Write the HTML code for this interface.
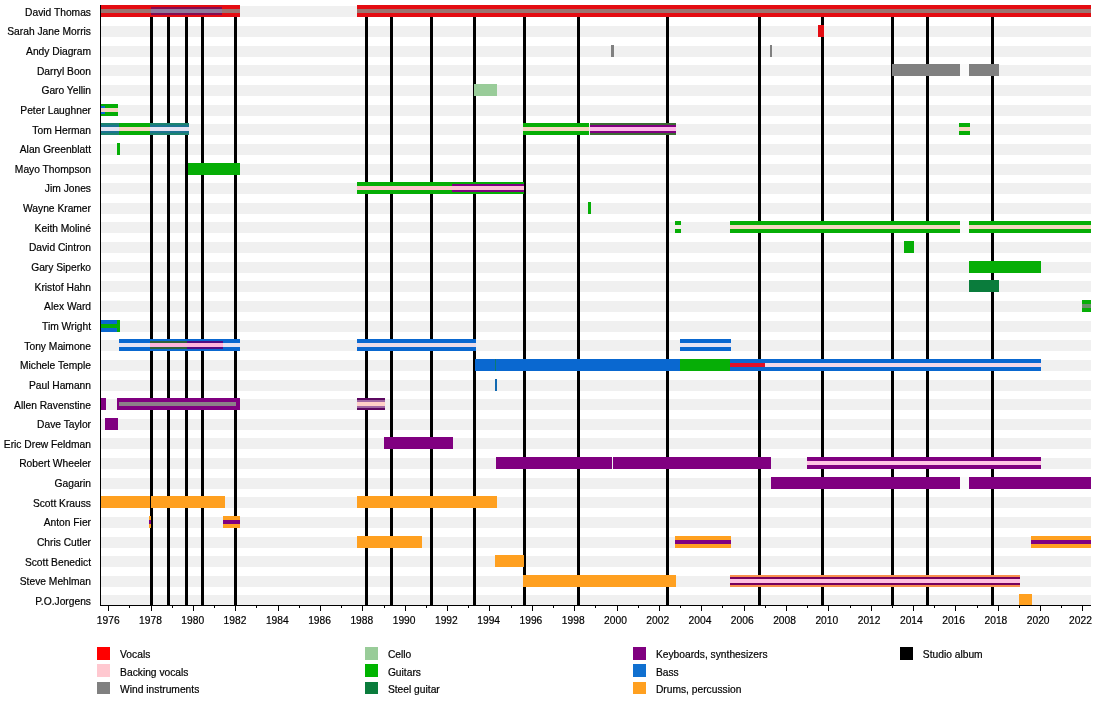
<!DOCTYPE html>
<html><head><meta charset="utf-8"><title>Timeline</title>
<style>
html,body{margin:0;padding:0;background:#fff;}
#c{position:relative;width:1100px;height:725px;overflow:hidden;background:#fff;font-family:"Liberation Sans",sans-serif;font-size:10.25px;color:#000;-webkit-text-stroke:0.2px #000;line-height:12px;}
#c div{position:absolute;}
#c span{position:absolute;white-space:nowrap;}
#t{position:absolute;left:0;top:0;width:1100px;height:725px;opacity:0.999;will-change:opacity;}
.n{right:1009px;text-align:right;}
.y{top:614.5px;width:40px;text-align:center;}
</style></head><body><div id="c">
<div style="left:100.00px;top:5.50px;width:991.00px;height:11.30px;background:#f0f0f0;"></div>
<div style="left:100.00px;top:25.50px;width:991.00px;height:11.30px;background:#f0f0f0;"></div>
<div style="left:100.00px;top:45.50px;width:991.00px;height:11.30px;background:#f0f0f0;"></div>
<div style="left:100.00px;top:64.50px;width:991.00px;height:11.30px;background:#f0f0f0;"></div>
<div style="left:100.00px;top:84.50px;width:991.00px;height:11.30px;background:#f0f0f0;"></div>
<div style="left:100.00px;top:104.50px;width:991.00px;height:11.30px;background:#f0f0f0;"></div>
<div style="left:100.00px;top:123.50px;width:991.00px;height:11.30px;background:#f0f0f0;"></div>
<div style="left:100.00px;top:143.50px;width:991.00px;height:11.30px;background:#f0f0f0;"></div>
<div style="left:100.00px;top:163.50px;width:991.00px;height:11.30px;background:#f0f0f0;"></div>
<div style="left:100.00px;top:182.50px;width:991.00px;height:11.30px;background:#f0f0f0;"></div>
<div style="left:100.00px;top:202.50px;width:991.00px;height:11.30px;background:#f0f0f0;"></div>
<div style="left:100.00px;top:221.50px;width:991.00px;height:11.30px;background:#f0f0f0;"></div>
<div style="left:100.00px;top:241.50px;width:991.00px;height:11.30px;background:#f0f0f0;"></div>
<div style="left:100.00px;top:261.50px;width:991.00px;height:11.30px;background:#f0f0f0;"></div>
<div style="left:100.00px;top:280.50px;width:991.00px;height:11.30px;background:#f0f0f0;"></div>
<div style="left:100.00px;top:300.50px;width:991.00px;height:11.30px;background:#f0f0f0;"></div>
<div style="left:100.00px;top:320.50px;width:991.00px;height:11.30px;background:#f0f0f0;"></div>
<div style="left:100.00px;top:339.50px;width:991.00px;height:11.30px;background:#f0f0f0;"></div>
<div style="left:100.00px;top:359.50px;width:991.00px;height:11.30px;background:#f0f0f0;"></div>
<div style="left:100.00px;top:379.50px;width:991.00px;height:11.30px;background:#f0f0f0;"></div>
<div style="left:100.00px;top:398.50px;width:991.00px;height:11.30px;background:#f0f0f0;"></div>
<div style="left:100.00px;top:418.50px;width:991.00px;height:11.30px;background:#f0f0f0;"></div>
<div style="left:100.00px;top:437.50px;width:991.00px;height:11.30px;background:#f0f0f0;"></div>
<div style="left:100.00px;top:457.50px;width:991.00px;height:11.30px;background:#f0f0f0;"></div>
<div style="left:100.00px;top:477.50px;width:991.00px;height:11.30px;background:#f0f0f0;"></div>
<div style="left:100.00px;top:496.50px;width:991.00px;height:11.30px;background:#f0f0f0;"></div>
<div style="left:100.00px;top:516.50px;width:991.00px;height:11.30px;background:#f0f0f0;"></div>
<div style="left:100.00px;top:536.50px;width:991.00px;height:11.30px;background:#f0f0f0;"></div>
<div style="left:100.00px;top:555.50px;width:991.00px;height:11.30px;background:#f0f0f0;"></div>
<div style="left:100.00px;top:575.50px;width:991.00px;height:11.30px;background:#f0f0f0;"></div>
<div style="left:100.00px;top:594.50px;width:991.00px;height:11.30px;background:#f0f0f0;"></div>
<div style="left:960.00px;top:64.00px;width:9.00px;height:12.00px;background:#fafafa;"></div>
<div style="left:960.00px;top:221.00px;width:9.00px;height:12.00px;background:#fafafa;"></div>
<div style="left:960.00px;top:477.00px;width:9.00px;height:12.00px;background:#fafafa;"></div>
<div style="left:150.00px;top:5.00px;width:3.00px;height:600.00px;background:#000;"></div>
<div style="left:167.00px;top:5.00px;width:3.00px;height:600.00px;background:#000;"></div>
<div style="left:184.80px;top:5.00px;width:3.00px;height:600.00px;background:#000;"></div>
<div style="left:200.80px;top:5.00px;width:3.00px;height:600.00px;background:#000;"></div>
<div style="left:234.00px;top:5.00px;width:3.00px;height:600.00px;background:#000;"></div>
<div style="left:365.00px;top:5.00px;width:3.00px;height:600.00px;background:#000;"></div>
<div style="left:390.00px;top:5.00px;width:3.00px;height:600.00px;background:#000;"></div>
<div style="left:430.00px;top:5.00px;width:3.00px;height:600.00px;background:#000;"></div>
<div style="left:473.00px;top:5.00px;width:3.00px;height:600.00px;background:#000;"></div>
<div style="left:523.00px;top:5.00px;width:3.00px;height:600.00px;background:#000;"></div>
<div style="left:577.00px;top:5.00px;width:3.00px;height:600.00px;background:#000;"></div>
<div style="left:666.00px;top:5.00px;width:3.00px;height:600.00px;background:#000;"></div>
<div style="left:758.00px;top:5.00px;width:3.00px;height:600.00px;background:#000;"></div>
<div style="left:821.00px;top:5.00px;width:3.00px;height:600.00px;background:#000;"></div>
<div style="left:890.80px;top:5.00px;width:3.00px;height:600.00px;background:#000;"></div>
<div style="left:925.70px;top:5.00px;width:3.00px;height:600.00px;background:#000;"></div>
<div style="left:990.90px;top:5.00px;width:3.00px;height:600.00px;background:#000;"></div>
<div style="left:100.70px;top:5.00px;width:139.30px;height:11.80px;background:#e40c12;"></div>
<div style="left:100.70px;top:9.00px;width:139.30px;height:4.00px;background:#9c7470;"></div>
<div style="left:151.20px;top:7.00px;width:70.80px;height:8.00px;background:#860c50;"></div>
<div style="left:151.20px;top:9.00px;width:70.80px;height:4.00px;background:#90789a;"></div>
<div style="left:357.20px;top:5.00px;width:733.80px;height:11.80px;background:#e40c12;"></div>
<div style="left:357.20px;top:9.00px;width:733.80px;height:4.00px;background:#9c7470;"></div>
<div style="left:818.00px;top:25.00px;width:5.50px;height:11.80px;background:#e40c12;"></div>
<div style="left:610.70px;top:45.00px;width:3.30px;height:11.80px;background:#808080;"></div>
<div style="left:769.80px;top:45.00px;width:2.20px;height:11.80px;background:#808080;"></div>
<div style="left:892.00px;top:64.00px;width:68.00px;height:11.80px;background:#808080;"></div>
<div style="left:969.00px;top:64.00px;width:30.00px;height:11.80px;background:#808080;"></div>
<div style="left:474.20px;top:84.00px;width:22.60px;height:11.80px;background:#99cc99;"></div>
<div style="left:100.70px;top:104.00px;width:17.30px;height:11.80px;background:#06ae06;"></div>
<div style="left:100.70px;top:108.00px;width:17.30px;height:4.00px;background:#f6d6c0;"></div>
<div style="left:100.70px;top:106.00px;width:4.80px;height:8.00px;background:#0a68d0;"></div>
<div style="left:100.70px;top:108.00px;width:4.80px;height:4.00px;background:#f6d6c0;"></div>
<div style="left:100.70px;top:123.00px;width:88.10px;height:11.80px;background:#06ae06;"></div>
<div style="left:100.70px;top:127.00px;width:88.10px;height:4.00px;background:#f6d6c0;"></div>
<div style="left:100.70px;top:123.00px;width:18.80px;height:11.80px;background:#1c8470;"></div>
<div style="left:100.70px;top:125.00px;width:18.80px;height:8.00px;background:#1c7490;"></div>
<div style="left:100.70px;top:127.00px;width:18.80px;height:4.00px;background:#e6e4f4;"></div>
<div style="left:150.20px;top:123.00px;width:38.60px;height:11.80px;background:#1c8470;"></div>
<div style="left:150.20px;top:125.00px;width:38.60px;height:8.00px;background:#1c7490;"></div>
<div style="left:150.20px;top:127.00px;width:38.60px;height:4.00px;background:#e6e4f4;"></div>
<div style="left:116.80px;top:143.00px;width:3.20px;height:11.80px;background:#06ae06;"></div>
<div style="left:187.80px;top:163.00px;width:52.20px;height:11.80px;background:#06ae06;"></div>
<div style="left:357.20px;top:182.00px;width:166.80px;height:11.80px;background:#06ae06;"></div>
<div style="left:357.20px;top:186.00px;width:166.80px;height:4.00px;background:#ffc4cc;"></div>
<div style="left:452.20px;top:184.00px;width:71.80px;height:8.00px;background:#800080;"></div>
<div style="left:452.20px;top:186.00px;width:71.80px;height:4.00px;background:#ffc0d8;"></div>
<div style="left:587.80px;top:202.00px;width:3.10px;height:11.80px;background:#06ae06;"></div>
<div style="left:523.10px;top:123.00px;width:65.90px;height:11.80px;background:#06ae06;"></div>
<div style="left:523.10px;top:127.00px;width:65.90px;height:4.00px;background:#f6d6c0;"></div>
<div style="left:589.60px;top:123.00px;width:86.40px;height:11.80px;background:#3c6c34;"></div>
<div style="left:589.60px;top:125.00px;width:86.40px;height:8.00px;background:#800080;"></div>
<div style="left:589.60px;top:127.00px;width:86.40px;height:4.00px;background:#ffb8e8;"></div>
<div style="left:959.00px;top:123.00px;width:11.20px;height:11.80px;background:#06ae06;"></div>
<div style="left:959.00px;top:127.00px;width:11.20px;height:4.00px;background:#f6d6c0;"></div>
<div style="left:675.00px;top:221.00px;width:6.00px;height:11.80px;background:#06ae06;"></div>
<div style="left:675.00px;top:225.00px;width:6.00px;height:4.00px;background:#f4f0e8;"></div>
<div style="left:730.00px;top:221.00px;width:230.20px;height:11.80px;background:#06ae06;"></div>
<div style="left:730.00px;top:225.00px;width:230.20px;height:4.00px;background:#f6d6c0;"></div>
<div style="left:969.30px;top:221.00px;width:121.70px;height:11.80px;background:#06ae06;"></div>
<div style="left:969.30px;top:225.00px;width:121.70px;height:4.00px;background:#f6d6c0;"></div>
<div style="left:904.00px;top:241.00px;width:10.00px;height:11.80px;background:#06ae06;"></div>
<div style="left:969.30px;top:261.00px;width:71.90px;height:11.80px;background:#06ae06;"></div>
<div style="left:969.30px;top:280.00px;width:29.70px;height:11.80px;background:#0a7c3c;"></div>
<div style="left:1082.20px;top:300.00px;width:8.80px;height:11.80px;background:#06ae06;"></div>
<div style="left:1082.20px;top:304.00px;width:8.80px;height:4.00px;background:#6c906c;"></div>
<div style="left:100.70px;top:320.00px;width:19.30px;height:11.80px;background:#0a68d0;"></div>
<div style="left:100.70px;top:324.00px;width:19.30px;height:4.00px;background:#06ae06;"></div>
<div style="left:116.80px;top:320.00px;width:3.20px;height:11.80px;background:#06ae06;"></div>
<div style="left:119.00px;top:339.00px;width:121.00px;height:11.80px;background:#0a68d0;"></div>
<div style="left:119.00px;top:343.00px;width:121.00px;height:4.00px;background:#e6e4f4;"></div>
<div style="left:150.30px;top:341.00px;width:37.10px;height:8.00px;background:#30603c;"></div>
<div style="left:150.30px;top:343.00px;width:37.10px;height:4.00px;background:#ffb4dc;"></div>
<div style="left:187.40px;top:341.00px;width:35.60px;height:8.00px;background:#500c84;"></div>
<div style="left:187.40px;top:343.00px;width:35.60px;height:4.00px;background:#ffb4dc;"></div>
<div style="left:357.00px;top:339.00px;width:119.00px;height:11.80px;background:#0a68d0;"></div>
<div style="left:357.00px;top:343.00px;width:119.00px;height:4.00px;background:#ecdce8;"></div>
<div style="left:680.00px;top:339.00px;width:51.00px;height:11.80px;background:#0a68d0;"></div>
<div style="left:680.00px;top:343.00px;width:51.00px;height:4.00px;background:#e6e4f4;"></div>
<div style="left:475.40px;top:359.00px;width:204.60px;height:11.80px;background:#0a68d0;"></div>
<div style="left:495.20px;top:359.00px;width:1.20px;height:11.80px;background:#0c7c70;"></div>
<div style="left:680.00px;top:359.00px;width:50.00px;height:11.80px;background:#06ae06;"></div>
<div style="left:730.00px;top:359.00px;width:35.00px;height:11.80px;background:#0a68d0;"></div>
<div style="left:730.00px;top:363.00px;width:35.00px;height:4.00px;background:#e01028;"></div>
<div style="left:765.00px;top:359.00px;width:276.00px;height:11.80px;background:#0a68d0;"></div>
<div style="left:765.00px;top:363.00px;width:276.00px;height:4.00px;background:#f4d8e8;"></div>
<div style="left:495.00px;top:379.00px;width:2.00px;height:11.80px;background:#1068b0;"></div>
<div style="left:100.70px;top:398.00px;width:5.10px;height:11.80px;background:#800080;"></div>
<div style="left:117.10px;top:398.00px;width:122.90px;height:11.80px;background:#800080;"></div>
<div style="left:118.90px;top:402.00px;width:117.30px;height:4.00px;background:#8c8088;"></div>
<div style="left:357.00px;top:398.00px;width:28.00px;height:11.80px;background:#5c0860;"></div>
<div style="left:357.00px;top:400.00px;width:28.00px;height:8.00px;background:#a068a4;"></div>
<div style="left:357.00px;top:402.00px;width:28.00px;height:4.00px;background:#ffd0c8;"></div>
<div style="left:105.20px;top:418.00px;width:12.80px;height:11.80px;background:#800080;"></div>
<div style="left:384.00px;top:437.00px;width:69.00px;height:11.80px;background:#800080;"></div>
<div style="left:496.00px;top:457.00px;width:116.30px;height:11.80px;background:#800080;"></div>
<div style="left:613.00px;top:457.00px;width:157.80px;height:11.80px;background:#800080;"></div>
<div style="left:807.00px;top:457.00px;width:234.00px;height:11.80px;background:#800080;"></div>
<div style="left:807.00px;top:461.00px;width:234.00px;height:4.00px;background:#ffc4e4;"></div>
<div style="left:770.90px;top:477.00px;width:189.10px;height:11.80px;background:#800080;"></div>
<div style="left:968.90px;top:477.00px;width:122.10px;height:11.80px;background:#800080;"></div>
<div style="left:100.70px;top:496.00px;width:49.70px;height:11.80px;background:#ffa020;"></div>
<div style="left:151.00px;top:496.00px;width:74.00px;height:11.80px;background:#ffa020;"></div>
<div style="left:357.00px;top:496.00px;width:139.70px;height:11.80px;background:#ffa020;"></div>
<div style="left:148.80px;top:516.00px;width:2.20px;height:11.80px;background:#ffa020;"></div>
<div style="left:148.80px;top:520.00px;width:2.20px;height:4.00px;background:#800080;"></div>
<div style="left:223.30px;top:516.00px;width:16.70px;height:11.80px;background:#ffa020;"></div>
<div style="left:223.30px;top:520.00px;width:16.70px;height:4.00px;background:#800080;"></div>
<div style="left:357.00px;top:536.00px;width:65.00px;height:11.80px;background:#ffa020;"></div>
<div style="left:675.20px;top:536.00px;width:55.60px;height:11.80px;background:#ffa020;"></div>
<div style="left:675.20px;top:540.00px;width:55.60px;height:4.00px;background:#800080;"></div>
<div style="left:1031.00px;top:536.00px;width:60.00px;height:11.80px;background:#ffa020;"></div>
<div style="left:1031.00px;top:540.00px;width:60.00px;height:4.00px;background:#800080;"></div>
<div style="left:494.80px;top:555.00px;width:29.30px;height:11.80px;background:#ffa020;"></div>
<div style="left:523.40px;top:575.00px;width:152.40px;height:11.80px;background:#ffa020;"></div>
<div style="left:729.90px;top:575.00px;width:289.90px;height:11.80px;background:#f89050;"></div>
<div style="left:729.90px;top:576.70px;width:289.90px;height:8.60px;background:#78005c;"></div>
<div style="left:729.90px;top:578.80px;width:289.90px;height:4.40px;background:#ffc0e0;"></div>
<div style="left:1019.00px;top:594.00px;width:13.00px;height:11.00px;background:#ffa020;"></div>
<div style="left:100.00px;top:5.00px;width:1.00px;height:600.50px;background:#000;"></div>
<div style="left:100.00px;top:604.50px;width:991.00px;height:1.00px;background:#000;"></div>
<div style="left:108.00px;top:605.00px;width:1.00px;height:6.00px;background:#000;"></div>
<div style="left:129.00px;top:605.00px;width:1.00px;height:3.00px;background:#000;"></div>
<div style="left:151.00px;top:605.00px;width:1.00px;height:6.00px;background:#000;"></div>
<div style="left:172.00px;top:605.00px;width:1.00px;height:3.00px;background:#000;"></div>
<div style="left:193.00px;top:605.00px;width:1.00px;height:6.00px;background:#000;"></div>
<div style="left:214.00px;top:605.00px;width:1.00px;height:3.00px;background:#000;"></div>
<div style="left:235.00px;top:605.00px;width:1.00px;height:6.00px;background:#000;"></div>
<div style="left:256.00px;top:605.00px;width:1.00px;height:3.00px;background:#000;"></div>
<div style="left:278.00px;top:605.00px;width:1.00px;height:6.00px;background:#000;"></div>
<div style="left:299.00px;top:605.00px;width:1.00px;height:3.00px;background:#000;"></div>
<div style="left:320.00px;top:605.00px;width:1.00px;height:6.00px;background:#000;"></div>
<div style="left:341.00px;top:605.00px;width:1.00px;height:3.00px;background:#000;"></div>
<div style="left:362.00px;top:605.00px;width:1.00px;height:6.00px;background:#000;"></div>
<div style="left:384.00px;top:605.00px;width:1.00px;height:3.00px;background:#000;"></div>
<div style="left:405.00px;top:605.00px;width:1.00px;height:6.00px;background:#000;"></div>
<div style="left:426.00px;top:605.00px;width:1.00px;height:3.00px;background:#000;"></div>
<div style="left:447.00px;top:605.00px;width:1.00px;height:6.00px;background:#000;"></div>
<div style="left:468.00px;top:605.00px;width:1.00px;height:3.00px;background:#000;"></div>
<div style="left:489.00px;top:605.00px;width:1.00px;height:6.00px;background:#000;"></div>
<div style="left:511.00px;top:605.00px;width:1.00px;height:3.00px;background:#000;"></div>
<div style="left:532.00px;top:605.00px;width:1.00px;height:6.00px;background:#000;"></div>
<div style="left:553.00px;top:605.00px;width:1.00px;height:3.00px;background:#000;"></div>
<div style="left:574.00px;top:605.00px;width:1.00px;height:6.00px;background:#000;"></div>
<div style="left:595.00px;top:605.00px;width:1.00px;height:3.00px;background:#000;"></div>
<div style="left:617.00px;top:605.00px;width:1.00px;height:6.00px;background:#000;"></div>
<div style="left:638.00px;top:605.00px;width:1.00px;height:3.00px;background:#000;"></div>
<div style="left:659.00px;top:605.00px;width:1.00px;height:6.00px;background:#000;"></div>
<div style="left:680.00px;top:605.00px;width:1.00px;height:3.00px;background:#000;"></div>
<div style="left:701.00px;top:605.00px;width:1.00px;height:6.00px;background:#000;"></div>
<div style="left:722.00px;top:605.00px;width:1.00px;height:3.00px;background:#000;"></div>
<div style="left:744.00px;top:605.00px;width:1.00px;height:6.00px;background:#000;"></div>
<div style="left:765.00px;top:605.00px;width:1.00px;height:3.00px;background:#000;"></div>
<div style="left:786.00px;top:605.00px;width:1.00px;height:6.00px;background:#000;"></div>
<div style="left:807.00px;top:605.00px;width:1.00px;height:3.00px;background:#000;"></div>
<div style="left:828.00px;top:605.00px;width:1.00px;height:6.00px;background:#000;"></div>
<div style="left:850.00px;top:605.00px;width:1.00px;height:3.00px;background:#000;"></div>
<div style="left:871.00px;top:605.00px;width:1.00px;height:6.00px;background:#000;"></div>
<div style="left:892.00px;top:605.00px;width:1.00px;height:3.00px;background:#000;"></div>
<div style="left:913.00px;top:605.00px;width:1.00px;height:6.00px;background:#000;"></div>
<div style="left:934.00px;top:605.00px;width:1.00px;height:3.00px;background:#000;"></div>
<div style="left:955.00px;top:605.00px;width:1.00px;height:6.00px;background:#000;"></div>
<div style="left:977.00px;top:605.00px;width:1.00px;height:3.00px;background:#000;"></div>
<div style="left:998.00px;top:605.00px;width:1.00px;height:6.00px;background:#000;"></div>
<div style="left:1019.00px;top:605.00px;width:1.00px;height:3.00px;background:#000;"></div>
<div style="left:1040.00px;top:605.00px;width:1.00px;height:6.00px;background:#000;"></div>
<div style="left:1061.00px;top:605.00px;width:1.00px;height:3.00px;background:#000;"></div>
<div style="left:1082.00px;top:605.00px;width:1.00px;height:6.00px;background:#000;"></div>
<div style="left:97.40px;top:647.00px;width:12.70px;height:12.70px;background:#ff0000;"></div>
<div style="left:97.40px;top:664.25px;width:12.70px;height:12.70px;background:#ffc8d0;"></div>
<div style="left:97.40px;top:681.50px;width:12.70px;height:12.70px;background:#808080;"></div>
<div style="left:365.20px;top:647.00px;width:12.70px;height:12.70px;background:#99cc99;"></div>
<div style="left:365.20px;top:664.25px;width:12.70px;height:12.70px;background:#00b400;"></div>
<div style="left:365.20px;top:681.50px;width:12.70px;height:12.70px;background:#0a7c3c;"></div>
<div style="left:633.20px;top:647.00px;width:12.70px;height:12.70px;background:#800080;"></div>
<div style="left:633.20px;top:664.25px;width:12.70px;height:12.70px;background:#1070d0;"></div>
<div style="left:633.20px;top:681.50px;width:12.70px;height:12.70px;background:#ffa020;"></div>
<div style="left:900.10px;top:647.00px;width:12.70px;height:12.70px;background:#000000;"></div>
<div id="t">
<span class="n" style="top:6.70px">David Thomas</span>
<span class="n" style="top:26.34px">Sarah Jane Morris</span>
<span class="n" style="top:45.98px">Andy Diagram</span>
<span class="n" style="top:65.62px">Darryl Boon</span>
<span class="n" style="top:85.26px">Garo Yellin</span>
<span class="n" style="top:104.90px">Peter Laughner</span>
<span class="n" style="top:124.54px">Tom Herman</span>
<span class="n" style="top:144.18px">Alan Greenblatt</span>
<span class="n" style="top:163.82px">Mayo Thompson</span>
<span class="n" style="top:183.46px">Jim Jones</span>
<span class="n" style="top:203.10px">Wayne Kramer</span>
<span class="n" style="top:222.74px">Keith Moliné</span>
<span class="n" style="top:242.38px">David Cintron</span>
<span class="n" style="top:262.02px">Gary Siperko</span>
<span class="n" style="top:281.66px">Kristof Hahn</span>
<span class="n" style="top:301.30px">Alex Ward</span>
<span class="n" style="top:320.94px">Tim Wright</span>
<span class="n" style="top:340.58px">Tony Maimone</span>
<span class="n" style="top:360.22px">Michele Temple</span>
<span class="n" style="top:379.86px">Paul Hamann</span>
<span class="n" style="top:399.50px">Allen Ravenstine</span>
<span class="n" style="top:419.14px">Dave Taylor</span>
<span class="n" style="top:438.78px">Eric Drew Feldman</span>
<span class="n" style="top:458.42px">Robert Wheeler</span>
<span class="n" style="top:478.06px">Gagarin</span>
<span class="n" style="top:497.70px">Scott Krauss</span>
<span class="n" style="top:517.34px">Anton Fier</span>
<span class="n" style="top:536.98px">Chris Cutler</span>
<span class="n" style="top:556.62px">Scott Benedict</span>
<span class="n" style="top:576.26px">Steve Mehlman</span>
<span class="n" style="top:595.90px">P.O.Jorgens</span>
<span class="y" style="left:88.20px">1976</span>
<span class="y" style="left:130.47px">1978</span>
<span class="y" style="left:172.74px">1980</span>
<span class="y" style="left:215.02px">1982</span>
<span class="y" style="left:257.29px">1984</span>
<span class="y" style="left:299.56px">1986</span>
<span class="y" style="left:341.83px">1988</span>
<span class="y" style="left:384.10px">1990</span>
<span class="y" style="left:426.38px">1992</span>
<span class="y" style="left:468.65px">1994</span>
<span class="y" style="left:510.92px">1996</span>
<span class="y" style="left:553.19px">1998</span>
<span class="y" style="left:595.46px">2000</span>
<span class="y" style="left:637.74px">2002</span>
<span class="y" style="left:680.01px">2004</span>
<span class="y" style="left:722.28px">2006</span>
<span class="y" style="left:764.55px">2008</span>
<span class="y" style="left:806.82px">2010</span>
<span class="y" style="left:849.10px">2012</span>
<span class="y" style="left:891.37px">2014</span>
<span class="y" style="left:933.64px">2016</span>
<span class="y" style="left:975.91px">2018</span>
<span class="y" style="left:1018.18px">2020</span>
<span class="y" style="left:1060.46px">2022</span>
<span class="l" style="left:120.10px;top:649.40px">Vocals</span>
<span class="l" style="left:120.10px;top:666.65px">Backing vocals</span>
<span class="l" style="left:120.10px;top:683.90px">Wind instruments</span>
<span class="l" style="left:387.90px;top:649.40px">Cello</span>
<span class="l" style="left:387.90px;top:666.65px">Guitars</span>
<span class="l" style="left:387.90px;top:683.90px">Steel guitar</span>
<span class="l" style="left:655.90px;top:649.40px">Keyboards, synthesizers</span>
<span class="l" style="left:655.90px;top:666.65px">Bass</span>
<span class="l" style="left:655.90px;top:683.90px">Drums, percussion</span>
<span class="l" style="left:922.80px;top:649.40px">Studio album</span>
</div>
</div></body></html>
